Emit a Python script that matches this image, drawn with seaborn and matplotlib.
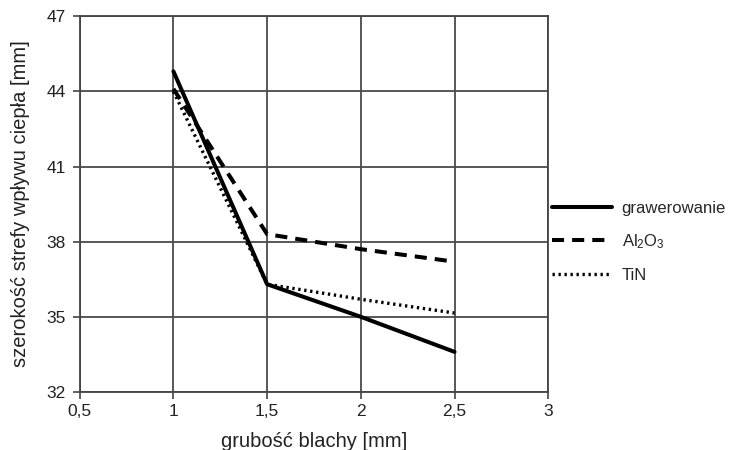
import matplotlib
matplotlib.use("Agg")
import matplotlib.pyplot as plt
import seaborn as sns
import pandas as pd

thickness = [1, 1.5, 2, 2.5]
grawerowanie = [44.8, 36.3, 35.0, 33.6]
al2o3 = [44.1, 38.3, 37.7, 37.2]
tin = [44.0, 36.3, 35.7, 35.15]

series_names = ["grawerowanie", "Al$_2$O$_3$", "TiN"]
series_values = [grawerowanie, al2o3, tin]

x_ticks = [0.5, 1, 1.5, 2, 2.5, 3]
y_ticks = [32, 35, 38, 41, 44, 47]

sns.set_style("white")
plt.rcParams.update({
    "font.family": ["Liberation Sans", "DejaVu Sans"],
    "mathtext.default": "regular",
    "axes.edgecolor": "#444444",
    "xtick.color": "#222222",
    "ytick.color": "#222222",
})

fig = plt.figure(figsize=(7.31, 4.5), dpi=100)
ax = fig.add_axes([0.109, 0.129, 0.641, 0.835])

styles = [
    {"linestyle": "-", "linewidth": 2.9},
    {"linestyle": (0, (3.0, 2.0)), "linewidth": 2.9},
    {"linestyle": (0, (0.7, 1.1)), "linewidth": 2.4},
]

for name, vals, st in zip(series_names, series_values, styles):
    df = pd.DataFrame({"x": thickness, "y": vals})
    sns.lineplot(data=df, x="x", y="y", ax=ax, color="black", label=name,
                 **st)

ax.set_xlim(0.5, 3)
ax.set_ylim(32, 47)
ax.set_xticks(x_ticks)
ax.set_yticks(y_ticks)
ax.set_xticklabels([str(v).replace(".", ",") for v in x_ticks])
ax.set_yticklabels([str(v) for v in y_ticks])
ax.grid(True, color="#4a4a4a", linewidth=1.3)
ax.tick_params(axis="both", length=5, width=1.2, color="#444444",
               labelsize=12.5, bottom=True, left=True)
ax.tick_params(axis="y", pad=5)
ax.tick_params(axis="x", pad=4)
for sp in ax.spines.values():
    sp.set_linewidth(1.3)

ax.set_xlabel("grubość blachy [mm]", fontsize=14.5, color="#222222",
              labelpad=9)
ax.set_ylabel("szerokość strefy wpływu ciepła [mm]", fontsize=14.5,
              color="#222222", labelpad=12)

ax.legend(loc="center left", bbox_to_anchor=(1.0, 0.40), frameon=False,
          fontsize=12, handlelength=3.6, handletextpad=0.6,
          labelspacing=1.0, borderaxespad=0.0, borderpad=0.2)

fig.savefig("out.png", dpi=100)
